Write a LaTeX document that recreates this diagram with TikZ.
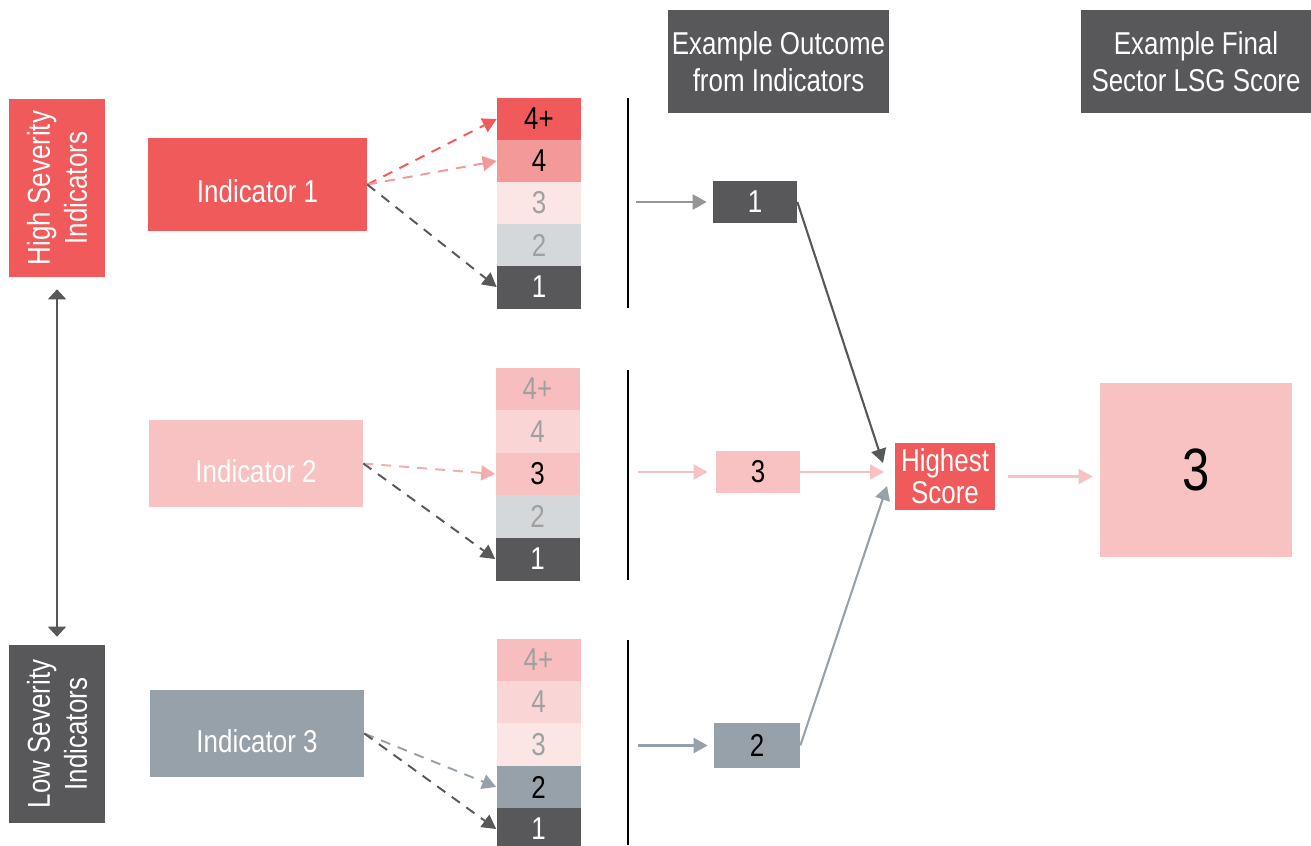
\documentclass[tikz,border=0pt]{standalone}
\usepackage{fontspec}
\setmainfont[FakeStretch=0.82]{Liberation Sans}
\usetikzlibrary{arrows.meta}
\definecolor{sred}{RGB}{240,90,91}
\definecolor{ssalmon}{RGB}{244,153,154}
\definecolor{spale}{RGB}{251,229,229}
\definecolor{slgray}{RGB}{213,216,219}
\definecolor{sdark}{RGB}{88,88,90}
\definecolor{spink}{RGB}{248,194,195}
\definecolor{spinkb}{RGB}{248,190,191}
\definecolor{spinkl}{RGB}{250,213,214}
\definecolor{sblue}{RGB}{151,161,169}
\definecolor{sgtext}{RGB}{160,160,160}
\definecolor{sgarrow}{RGB}{150,150,150}
\definecolor{spinkarrow}{RGB}{245,172,173}
\begin{document}
\begin{tikzpicture}[x=0.02cm,y=-0.02cm,>={Triangle[length=0.28cm,width=0.3cm]},box/.style={inner sep=0,align=center,text=white,font=\fontsize{18}{21}\selectfont},ind/.style={box,text height=0.74cm,text depth=0pt},cell/.style={inner sep=0,minimum width=1.68cm,minimum height=0.86cm,font=\fontsize{18}{20}\selectfont},dline/.style={->,line width=1.1pt,dash pattern=on 0.2cm off 0.16cm},sline/.style={->,line width=1.2pt}]
\useasboundingbox (0,0) rectangle (1311,845);

% headers
\node[box,fill=sdark,minimum width=4.42cm,minimum height=2.06cm] (T1) at (778.5,61.5) {Example Outcome\\from Indicators};
\node[box,fill=sdark,minimum width=4.6cm,minimum height=2.06cm] (T2) at (1196,61.5) {Example Final\\Sector LSG Score};

% severity
\node[box,fill=sred,rotate=90,minimum width=3.56cm,minimum height=1.92cm] (HS) at (57,188) {High Severity\\Indicators};
\node[box,fill=sdark,rotate=90,minimum width=3.56cm,minimum height=1.92cm] (LS) at (57,734) {Low Severity\\Indicators};
\draw[{Triangle[length=0.2cm,width=0.36cm]}-{Triangle[length=0.2cm,width=0.36cm]},line width=1.1pt,sdark,shorten <=0.24cm,shorten >=0.16cm] (HS.west) -- (LS.east);

% indicators
\node[ind,fill=sred,minimum width=4.38cm,minimum height=1.86cm] (I1) at (257.5,184.5) {Indicator 1};
\node[ind,fill=spink,minimum width=4.28cm,minimum height=1.74cm] (I2) at (256,463.5) {Indicator 2};
\node[ind,fill=sblue,minimum width=4.28cm,minimum height=1.74cm] (I3) at (257,733.5) {Indicator 3};

% scales
\node[cell,fill=sred] (A4p) at (539,119) {4+};
\node[cell,fill=ssalmon] (A4) at (539,161) {4};
\node[cell,fill=spale,text=sgtext] (A3) at (539,203) {3};
\node[cell,fill=slgray,text=sgtext] (A2) at (539,245) {2};
\node[cell,fill=sdark,text=white] (A1) at (539,287) {1};

\node[cell,fill=spinkb,text=sgtext] (B4p) at (537.5,389) {4+};
\node[cell,fill=spinkl,text=sgtext] (B4) at (537.5,431.5) {4};
\node[cell,fill=spink] (B3) at (537.5,474) {3};
\node[cell,fill=slgray,text=sgtext] (B2) at (537.5,516.5) {2};
\node[cell,fill=sdark,text=white] (B1) at (537.5,559) {1};

\node[cell,fill=spinkb,text=sgtext] (C4p) at (538.5,660) {4+};
\node[cell,fill=spinkl,text=sgtext] (C4) at (538.5,702) {4};
\node[cell,fill=spale,text=sgtext] (C3) at (538.5,744.5) {3};
\node[cell,fill=sblue] (C2) at (538.5,787) {2};
\node[cell,fill=sdark,text=white] (C1) at (538.5,829) {1};

\draw[dline,sred] (I1.east) -- (A4p.west);
\draw[dline,ssalmon] (I1.east) -- (A4.west);
\draw[dline,sdark] (I1.east) -- (A1.west);
\draw[dline,spinkarrow] (I2.east) -- (B3.west);
\draw[dline,sdark] (I2.east) -- (B1.west);
\draw[dline,sblue] (I3.east) -- (C2.west);
\draw[dline,sdark] (I3.east) -- (C1.west);

% separators
\draw[line width=1.5pt] (628,98) -- (628,308);
\draw[line width=1.5pt] (628,370) -- (628,580);
\draw[line width=1.5pt] (628,640) -- (628,845);

% outcomes
\node[cell,fill=sdark,text=white,minimum height=0.84cm] (R1) at (755,202) {1};
\node[cell,fill=spink,minimum height=0.84cm] (R2) at (758,472) {3};
\node[cell,fill=sblue,minimum width=1.72cm,minimum height=0.9cm] (R3) at (757,745.5) {2};
\coordinate (o1) at (636,202);
\coordinate (o2) at (638,472);
\coordinate (o3) at (638,745.5);
\draw[sline,sgarrow,shorten >=0.12cm] (o1) -- (R1.west);
\draw[sline,spink,shorten >=0.16cm] (o2) -- (R2.west);
\draw[sline,sblue,shorten >=0.12cm] (o3) -- (R3.west);

% final
\node[box,fill=sred,minimum width=2cm,minimum height=1.34cm,font=\fontsize{18}{18}\selectfont] (H) at (945,476.5) {Highest\\Score};
\coordinate (h1) at (883,463);
\coordinate (h2) at (884,472);
\coordinate (h3) at (887,486);
\draw[sline,sdark] (R1.east) -- (h1);
\draw[sline,spink] (R2.east) -- (h2);
\draw[sline,sblue] (R3.east) -- (h3);
\node[box,fill=spink,text=black,minimum width=3.84cm,minimum height=3.48cm,font=\fontsize{34}{36}\selectfont] (F) at (1196,470) {3};
\draw[sline,spink,shorten <=0.26cm,shorten >=0.14cm] (H.east) -- (H.east -| F.west);
\end{tikzpicture}
\end{document}
